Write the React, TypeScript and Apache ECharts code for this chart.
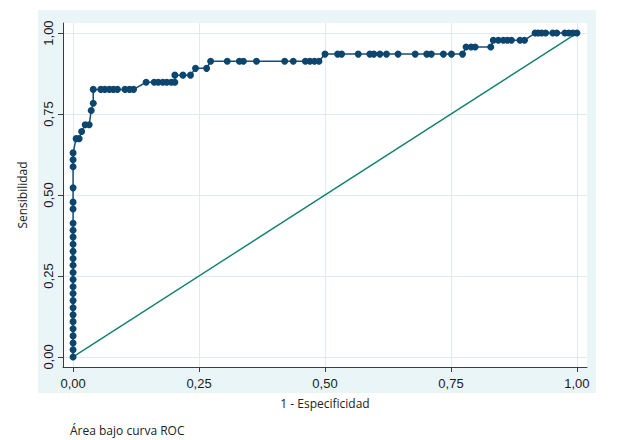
import React, { useEffect, useRef } from "react";
import * as echarts from "echarts";

// 1 - Especificidad (false positive rate) of each point of the ROC curve
const fpr = [
  0, 0, 0, 0, 0, 0, 0, 0, 0, 0, 0, 0, 0, 0, 0, 0, 0, 0, 0, 0,
  0, 0, 0, 0, 0, 0,
  0.006, 0.012, 0.017, 0.024, 0.032, 0.036, 0.040, 0.040,
  0.055, 0.063, 0.072, 0.080, 0.088, 0.103, 0.112, 0.120,
  0.145, 0.161, 0.169, 0.178, 0.186, 0.195, 0.202,
  0.202, 0.218, 0.233,
  0.243, 0.265,
  0.273, 0.306, 0.330, 0.338, 0.364, 0.420, 0.437, 0.461, 0.470, 0.479, 0.488,
  0.500, 0.525, 0.533, 0.566, 0.589, 0.597, 0.609, 0.622, 0.645, 0.679, 0.702, 0.711, 0.735, 0.751, 0.773,
  0.780, 0.790, 0.798, 0.829,
  0.834, 0.844, 0.854, 0.862, 0.870, 0.887, 0.896,
  0.917, 0.923, 0.930, 0.938, 0.952, 0.960, 0.976, 0.984, 0.992, 1.0,
];

// Sensibilidad (true positive rate) of each point
const tpr = [
  0, 0.022, 0.043, 0.065, 0.087, 0.109, 0.130, 0.152, 0.174, 0.196, 0.217, 0.239, 0.261, 0.283, 0.304, 0.326, 0.348, 0.370, 0.391, 0.413,
  0.457, 0.478, 0.522, 0.587, 0.609, 0.630,
  0.674, 0.674, 0.696, 0.717, 0.717, 0.761, 0.783, 0.826,
  0.826, 0.826, 0.826, 0.826, 0.826, 0.826, 0.826, 0.826,
  0.848, 0.848, 0.848, 0.848, 0.848, 0.848, 0.848,
  0.870, 0.870, 0.870,
  0.891, 0.891,
  0.913, 0.913, 0.913, 0.913, 0.913, 0.913, 0.913, 0.913, 0.913, 0.913, 0.913,
  0.935, 0.935, 0.935, 0.935, 0.935, 0.935, 0.935, 0.935, 0.935, 0.935, 0.935, 0.935, 0.935, 0.935, 0.935,
  0.957, 0.957, 0.957, 0.957,
  0.978, 0.978, 0.978, 0.978, 0.978, 0.978, 0.978,
  1.0, 1.0, 1.0, 1.0, 1.0, 1.0, 1.0, 1.0, 1.0, 1.0,
];

// reference (chance) line
const diagX = [0, 1];
const diagY = [0, 1];

const tickValues = [0, 0.25, 0.5, 0.75, 1];
const tickLabels = ["0,00", "0,25", "0,50", "0,75", "1,00"];

const xTitle = "1 - Especificidad";
const yTitle = "Sensibilidad";
const note = "Área bajo curva ROC";

export default function App() {
  const ref = useRef<HTMLDivElement>(null);

  useEffect(() => {
    const chart = echarts.init(ref.current!, null, { renderer: "svg" });
    const fmt = (v: number) => {
      const i = tickValues.findIndex((t) => Math.abs(t - v) < 1e-6);
      return i >= 0 ? tickLabels[i] : "";
    };
    const axisColor = "#3c3c3c";
    const gridColor = "#dcecf0";
    const labelFont = '"Liberation Sans", Arial, sans-serif';
    const titleFont = '"Open Sans", "Noto Sans", sans-serif';

    chart.setOption({
      animation: false,
      backgroundColor: "#ffffff",
      grid: { left: 63, top: 23, width: 524, height: 344, containLabel: false },
      graphic: [
        {
          type: "rect",
          silent: true,
          z: -5,
          shape: { x: 38, y: 10, width: 558, height: 383 },
          style: { fill: "#eaf5f7" },
        },
        {
          type: "rect",
          silent: true,
          z: -4,
          shape: { x: 63, y: 23, width: 524, height: 344 },
          style: { fill: "#ffffff" },
        },
        {
          type: "text",
          x: 325,
          y: 403,
          style: {
            text: xTitle,
            font: `12px ${titleFont}`,
            fill: "#222222",
            textAlign: "center",
            textVerticalAlign: "middle",
          },
        },
        {
          type: "text",
          x: 22,
          y: 195,
          rotation: Math.PI / 2,
          style: {
            text: yTitle,
            font: `12px ${titleFont}`,
            fill: "#222222",
            textAlign: "center",
            textVerticalAlign: "middle",
          },
        },
        {
          type: "text",
          x: 70,
          y: 430,
          style: {
            text: note,
            font: `12px ${titleFont}`,
            fill: "#222222",
            textAlign: "left",
            textVerticalAlign: "middle",
          },
        },
      ],
      xAxis: {
        type: "value",
        min: -0.02,
        max: 1.02,
        axisLine: { show: true, onZero: false, lineStyle: { color: axisColor, width: 1 } },
        axisTick: { show: true, customValues: tickValues, length: 5, lineStyle: { color: axisColor } },
        axisLabel: {
          customValues: tickValues,
          formatter: fmt,
          margin: 10,
          color: "#1a1a1a",
          fontFamily: labelFont,
          fontSize: 13,
        },
        splitLine: { show: true, lineStyle: { color: gridColor, width: 1 } },
      },
      yAxis: {
        type: "value",
        min: -0.031,
        max: 1.031,
        axisLine: { show: true, onZero: false, lineStyle: { color: axisColor, width: 1 } },
        axisTick: { show: true, customValues: tickValues, length: 5, lineStyle: { color: axisColor } },
        axisLabel: {
          customValues: tickValues,
          formatter: fmt,
          rotate: 90,
          margin: 8,
          color: "#1a1a1a",
          fontFamily: labelFont,
          fontSize: 13,
        },
        splitLine: { show: true, lineStyle: { color: gridColor, width: 1 } },
      },
      series: [
        {
          type: "line",
          data: diagX.map((x, i) => [x, diagY[i]]),
          symbol: "none",
          lineStyle: { color: "#12806f", width: 1.4 },
          z: 2,
          silent: true,
        },
        {
          type: "line",
          data: fpr.map((x, i) => [x, tpr[i]]),
          symbol: "circle",
          symbolSize: 7,
          showSymbol: true,
          lineStyle: { color: "#174d78", width: 1.5 },
          itemStyle: { color: "#0c466f" },
          z: 3,
          silent: true,
        },
      ],
    });
    return () => chart.dispose();
  }, []);

  return (
    <div
      ref={ref}
      style={{ position: "fixed", left: 0, top: 0, width: 617, height: 440 }}
    />
  );
}
